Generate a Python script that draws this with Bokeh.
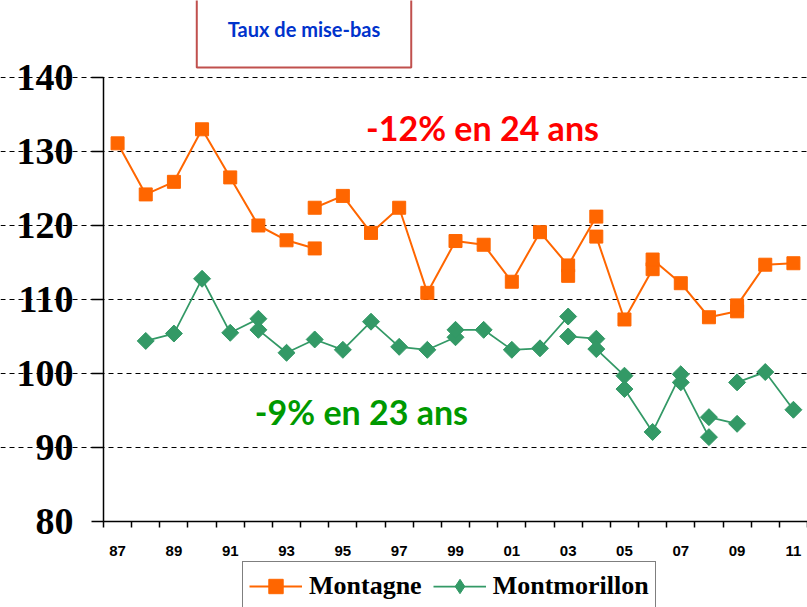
import math
from bokeh.plotting import figure
from bokeh.models import FixedTicker, Label, Legend, LegendItem, Range1d
from bokeh.embed import file_html
from bokeh.resources import INLINE

# ---- data ----
tick_years = [1987, 1989, 1991, 1993, 1995, 1997, 1999, 2001, 2003, 2005, 2007, 2009, 2011]
tick_labels = ["87", "89", "91", "93", "95", "97", "99", "01", "03", "05", "07", "09", "11"]
y_ticks = [80, 90, 100, 110, 120, 130, 140]

montagne_years = [1987, 1988, 1989, 1990, 1991, 1992, 1993, 1994,
                  1994, 1995, 1996, 1997, 1998, 1999, 2000, 2001, 2002, 2003, 2004,
                  2003,
                  2004, 2005, 2006, 2006, 2007, 2008, 2009, 2009, 2010, 2011]
montagne_values = [131.1, 124.2, 125.9, 133.0, 126.5, 120.0, 118.0, 116.9,
                   122.4, 124.0, 119.0, 122.4, 110.9, 117.9, 117.4, 112.4, 119.1, 114.6, 121.2,
                   113.2,
                   118.5, 107.3, 114.1, 115.4, 112.2, 107.6, 108.4, 109.2, 114.7, 114.9]
montagne_segment = [1, 1, 1, 1, 1, 1, 1, 1,
                    2, 2, 2, 2, 2, 2, 2, 2, 2, 2, 2,
                    3,
                    4, 4, 4, 4, 4, 4, 4, 4, 4, 4]

montmo_years = [1988, 1989, 1990, 1991, 1992,
                1992, 1993, 1994, 1995, 1996, 1997, 1998, 1999, 1999, 2000, 2001, 2002, 2003,
                2003, 2004, 2004, 2005, 2005, 2006, 2007, 2007, 2008,
                2008, 2009,
                2009, 2010, 2011]
montmo_values = [104.4, 105.4, 112.8, 105.5, 107.4,
                 105.9, 102.8, 104.6, 103.2, 107.0, 103.6, 103.2, 104.9, 105.9, 105.9, 103.2, 103.4, 107.7,
                 105.0, 104.7, 103.3, 99.7, 97.9, 92.1, 99.9, 98.8, 91.4,
                 94.1, 93.2,
                 98.8, 100.2, 95.1]
montmo_segment = [1, 1, 1, 1, 1,
                  2, 2, 2, 2, 2, 2, 2, 2, 2, 2, 2, 2, 2,
                  3, 3, 3, 3, 3, 3, 3, 3, 3,
                  4, 4,
                  5, 5, 5]

ORANGE = "#ff6600"
GREEN = "#339966"

X0, X1 = 1986.5, 2011.5
Y0, Y1 = 80, 140

# frame covers whole canvas; axes are pinned at the data corner
p = figure(width=807, height=607, output_backend="svg", toolbar_location=None,
           x_range=Range1d(1982.842, X1), y_range=Range1d(68.378, 150.405),
           min_border=0, min_border_left=0, min_border_right=0,
           min_border_top=0, min_border_bottom=0)
p.outline_line_color = None
p.background_fill_color = "white"
p.border_fill_color = "white"

p.xgrid.visible = False
p.ygrid.ticker = FixedTicker(ticks=y_ticks[1:])
p.ygrid.bounds = (X0, X1)
p.ygrid.grid_line_color = "black"
p.ygrid.grid_line_dash = "5 4"
p.ygrid.grid_line_width = 1

# y axis
p.yaxis.fixed_location = X0
p.yaxis.bounds = (Y0, Y1)
p.yaxis.ticker = FixedTicker(ticks=y_ticks)
p.yaxis.major_tick_out = 12
p.yaxis.major_tick_in = 0
p.yaxis.minor_tick_out = 0
p.yaxis.major_label_standoff = 18
p.yaxis.axis_line_color = "black"
p.yaxis.axis_line_width = 1.5
p.yaxis.major_tick_line_width = 1.5
p.yaxis.major_label_text_font = "Liberation Serif"
p.yaxis.major_label_text_font_style = "bold"
p.yaxis.major_label_text_font_size = "38px"
p.yaxis.major_label_text_color = "black"

# x axis
minor = [y - 0.5 for y in range(tick_years[0], tick_years[-1] + 2)]
p.xaxis.fixed_location = Y0
p.xaxis.bounds = (X0, X1)
p.xaxis.ticker = FixedTicker(ticks=tick_years, minor_ticks=minor)
p.xaxis.major_label_overrides = {y: l for y, l in zip(tick_years, tick_labels)}
p.xaxis.major_tick_out = 0
p.xaxis.major_tick_in = 0
p.xaxis.minor_tick_out = 6
p.xaxis.minor_tick_in = 0
p.xaxis.minor_tick_line_color = "black"
p.xaxis.minor_tick_line_width = 1.5
p.xaxis.axis_line_color = "black"
p.xaxis.axis_line_width = 1.5
p.xaxis.major_label_standoff = 19
p.xaxis.major_label_text_font = "Liberation Sans"
p.xaxis.major_label_text_font_style = "bold"
p.xaxis.major_label_text_font_size = "15px"
p.xaxis.major_label_text_color = "black"

# series lines per segment
m_lines = []
for s in sorted(set(montagne_segment)):
    xs = [x for x, g in zip(montagne_years, montagne_segment) if g == s]
    ys = [v for v, g in zip(montagne_values, montagne_segment) if g == s]
    m_lines.append(p.line(xs, ys, line_color=ORANGE, line_width=2))
g_lines = []
for s in sorted(set(montmo_segment)):
    xs = [x for x, g in zip(montmo_years, montmo_segment) if g == s]
    ys = [v for v, g in zip(montmo_values, montmo_segment) if g == s]
    g_lines.append(p.line(xs, ys, line_color=GREEN, line_width=1.75))

m_sc = p.scatter(montagne_years, montagne_values, marker="square", size=13,
                 fill_color=ORANGE, line_color=ORANGE)
# narrow diamonds (used for the legend glyph) hidden under the rotated squares
g_leg = p.scatter(montmo_years, montmo_values, marker="diamond", size=15,
                  fill_color=GREEN, line_color=GREEN)
g_sc = p.scatter(montmo_years, montmo_values, marker="square", size=12, angle=math.pi / 4,
                 fill_color=GREEN, line_color=GREEN)

# annotations
p.add_layout(Label(x=1999.96, y=133.24, text="-12% en 24 ans", text_align="center",
                   text_baseline="middle", text_font="Lato", text_font_style="bold",
                   text_font_size="34px", text_color="#ff0000"))
p.add_layout(Label(x=1995.66, y=94.86, text="-9% en 23 ans", text_align="center",
                   text_baseline="middle", text_font="Lato", text_font_style="bold",
                   text_font_size="34px", text_color="#009900"))

# title box
p.add_layout(Label(x=1993.62, y=146.62, text="Taux de mise-bas", text_align="center",
                   text_baseline="middle", text_font="Lato", text_font_style="bold",
                   text_font_size="20px", text_color="#0033cc",
                   border_line_color="#c0504d", border_line_width=2,
                   background_fill_color="white", padding=(31, 27)))

legend = Legend(items=[LegendItem(label="Montagne", renderers=[m_lines[0], m_sc]),
                       LegendItem(label="Montmorillon", renderers=[g_lines[0], g_leg])],
                orientation="horizontal", location=(242, -4),
                glyph_width=53, glyph_height=36, label_standoff=7, spacing=11,
                padding=6, margin=0,
                label_text_font="Liberation Serif", label_text_font_style="bold",
                label_text_font_size="26px", label_text_color="black",
                border_line_color="black", border_line_width=1.5,
                background_fill_color="white", background_fill_alpha=1)
p.add_layout(legend)

open("out.html", "w").write(file_html(p, INLINE))
